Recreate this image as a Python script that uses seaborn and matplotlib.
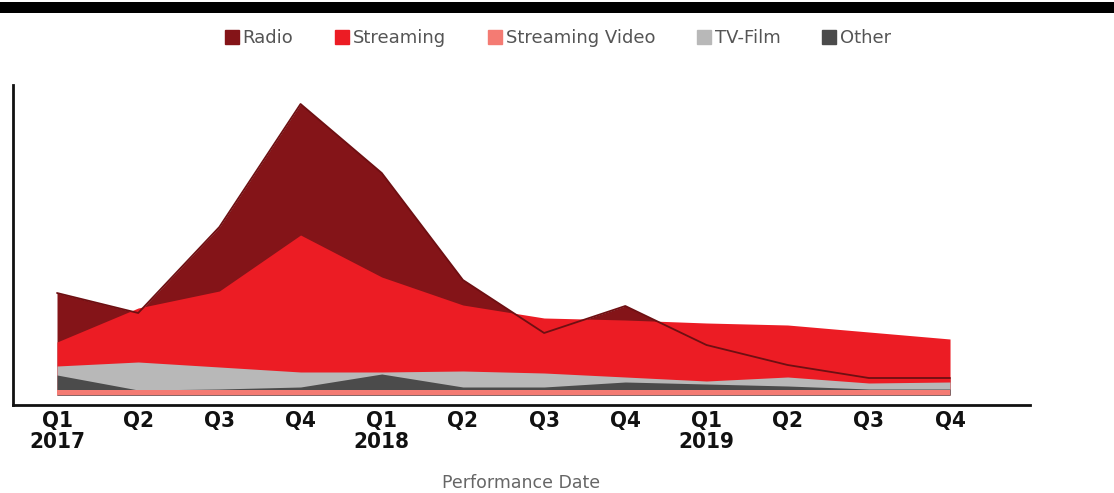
import numpy as np
import pandas as pd
import matplotlib
matplotlib.use("Agg")
import matplotlib.pyplot as plt
import seaborn as sns
from matplotlib.patches import Rectangle
from matplotlib.lines import Line2D
from matplotlib import font_manager

quarters = ["Q1\n2017", "Q2", "Q3", "Q4", "Q1\n2018", "Q2", "Q3", "Q4", "Q1\n2019", "Q2", "Q3", "Q4"]
radio = [102, 82, 168, 291, 222, 115, 62, 89, 50, 30, 17, 17]
streaming = [53, 87, 104, 160, 118, 90, 77, 75, 72, 70, 63, 56]
tv_film = [29, 33, 28, 23, 23, 24, 22, 18, 14, 18, 12, 13]
other = [20, 5, 6, 8, 21, 8, 8, 13, 11, 9, 6, 6]
streaming_video = [5, 5, 5, 5, 5, 5, 5, 5, 5, 5, 5, 5]

series_names = ["Radio", "Streaming", "Streaming Video", "TV-Film", "Other"]
colors = {"Radio": "#841418", "Streaming": "#ec1c24", "Streaming Video": "#f47b73",
          "TV-Film": "#b8b8b8", "Other": "#4b4b4b"}

sns.set_theme(style="white")
plt.rcParams['font.family'] = ['DejaVu Sans']

cond = [f for f in font_manager.fontManager.ttflist
        if ("Narrow" in f.name or "Condensed" in f.name or f.stretch in ("condensed", 'semi-condensed', 'extra-condensed'))]
tick_family = None
tick_props = dict(fontweight="bold")
if any(f.name == "Liberation Sans Narrow" for f in cond):
    tick_family = ["Liberation Sans Narrow"]
elif any(f.name == "DejaVu Sans" and f.stretch == "condensed" for f in cond):
    tick_family = ["DejaVu Sans"]
    tick_props["fontstretch"] = "condensed"
elif any(f.name == "DejaVu Sans Condensed" for f in cond):
    tick_family = ["DejaVu Sans Condensed"]
else:
    tick_family = ["Roboto"]

fig = plt.figure(figsize=(11.14, 4.93), dpi=100)
ax = fig.add_axes([13/1114, 1 - 405/493, (1030-13)/1114, (405-85)/493])

x = np.arange(len(quarters))
df = pd.DataFrame({"x": x, "Radio": radio, "Streaming": streaming,
                   "TV-Film": tv_film, "Other": other, "Streaming Video": streaming_video})

draw_order = ["Radio", "Streaming", "TV-Film", "Other", "Streaming Video"]
for i, name in enumerate(draw_order):
    ax.fill_between(df["x"], 0, df[name], color=colors[name], linewidth=0, zorder=2 + i)

sns.lineplot(data=df, x="x", y="Radio", ax=ax, color="#6e0f12", linewidth=1.3, zorder=20, legend=False)

ax.set_xlim(-0.542, 11.985)
ax.set_ylim(-10, 310)
ax.set_xticks(x)
ax.set_xticklabels(quarters, fontsize=16, family=tick_family, linespacing=1.08,
                   color="#111111", **tick_props)
ax.tick_params(axis="x", length=0, pad=4)
ax.set_yticks([])
ax.set_xlabel("Performance Date", fontsize=12.5, color="#666666", labelpad=16)
ax.set_ylabel("")
for s in ["top", "right"]:
    ax.spines[s].set_visible(False)
for s in ["left", "bottom"]:
    ax.spines[s].set_color("#111111")
    ax.spines[s].set_linewidth(2)

fig.patches.append(Rectangle((0, 1 - 13/493), 1, 11/493, transform=fig.transFigure,
                             facecolor="black", edgecolor="none", zorder=0))

handles = [Line2D([0], [0], marker="s", linestyle="none", markersize=10,
                  markerfacecolor=colors[n], markeredgecolor=colors[n]) for n in series_names]
leg = fig.legend(handles, series_names, loc="center", bbox_to_anchor=(557/1114, 1 - 38/493),
                 ncol=5, frameon=False, fontsize=13, handletextpad=0.1, columnspacing=2.2,
                 handlelength=1.0)
for t in leg.get_texts():
    t.set_color("#555555")

fig.savefig("out.png", dpi=100, facecolor="white")
